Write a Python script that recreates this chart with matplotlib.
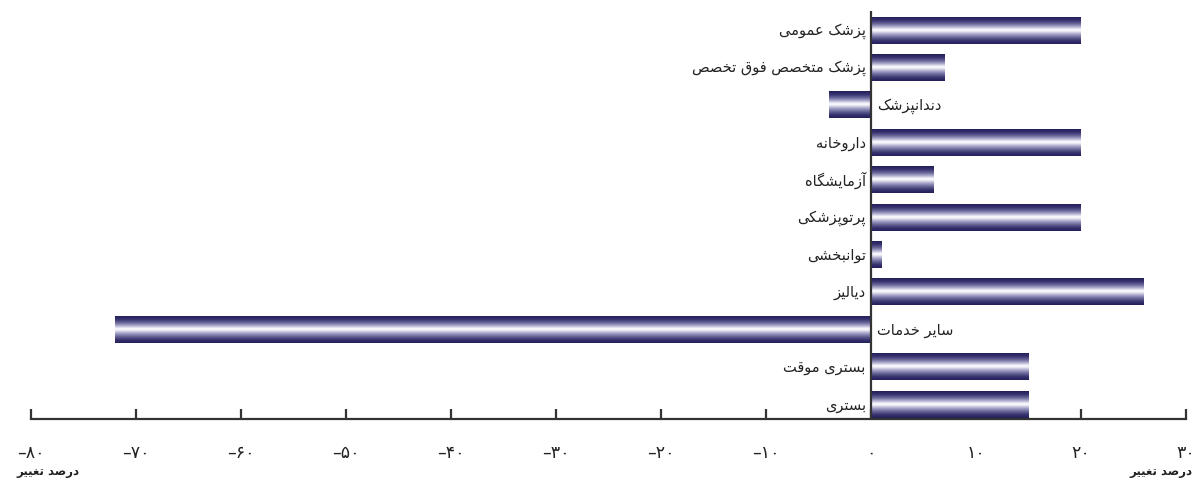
import matplotlib
matplotlib.use("Agg")
import matplotlib.pyplot as plt
import numpy as np
from matplotlib.colors import LinearSegmentedColormap

# ---------------- data ----------------
categories = [
    "پزشک عمومی",
    "پزشک متخصص فوق تخصص",
    "دندانپزشک",
    "داروخانه",
    "آزمایشگاه",
    "پرتوپزشکی",
    "توانبخشی",
    "دیالیز",
    "سایر خدمات",
    "بستری موقت",
    "بستری",
]
values = [20, 7, -4, 20, 6, 20, 1, 26, -72, 15, 15]
tick_values = list(range(-80, 31, 10))
axis_title = "درصد تغییر"

# ---------------- simple Persian shaper ----------------
FORMS = {  # isolated, final, initial, medial
    'ا': ('\uFE8D', '\uFE8E', None, None),
    'آ': ('\uFE81', '\uFE82', None, None),
    'د': ('\uFEA9', '\uFEAA', None, None),
    'ر': ('\uFEAD', '\uFEAE', None, None),
    'ز': ('\uFEAF', '\uFEB0', None, None),
    'و': ('\uFEED', '\uFEEE', None, None),
    'ب': ('\uFE8F', '\uFE90', '\uFE91', '\uFE92'),
    'پ': ('\uFB56', '\uFB57', '\uFB58', '\uFB59'),
    'ت': ('\uFE95', '\uFE96', '\uFE97', '\uFE98'),
    'خ': ('\uFEA5', '\uFEA6', '\uFEA7', '\uFEA8'),
    'س': ('\uFEB1', '\uFEB2', '\uFEB3', '\uFEB4'),
    'ش': ('\uFEB5', '\uFEB6', '\uFEB7', '\uFEB8'),
    'ص': ('\uFEB9', '\uFEBA', '\uFEBB', '\uFEBC'),
    'ع': ('\uFEC9', '\uFECA', '\uFECB', '\uFECC'),
    'غ': ('\uFECD', '\uFECE', '\uFECF', '\uFED0'),
    'ف': ('\uFED1', '\uFED2', '\uFED3', '\uFED4'),
    'ق': ('\uFED5', '\uFED6', '\uFED7', '\uFED8'),
    'ک': ('\uFB8E', '\uFB8F', '\uFB90', '\uFB91'),
    'گ': ('\uFB92', '\uFB93', '\uFB94', '\uFB95'),
    'ل': ('\uFEDD', '\uFEDE', '\uFEDF', '\uFEE0'),
    'م': ('\uFEE1', '\uFEE2', '\uFEE3', '\uFEE4'),
    'ن': ('\uFEE5', '\uFEE6', '\uFEE7', '\uFEE8'),
    'ه': ('\uFEE9', '\uFEEA', '\uFEEB', '\uFEEC'),
    'ی': ('\uFBFC', '\uFBFD', '\uFBFE', '\uFBFF'),
}


def dual(c):
    return c in FORMS and FORMS[c][2] is not None


def shape(text):
    out = []
    n = len(text)
    for i, c in enumerate(text):
        if c not in FORMS:
            out.append(c)
            continue
        prev_c = text[i - 1] if i > 0 else ''
        next_c = text[i + 1] if i < n - 1 else ''
        jp = dual(prev_c)
        jn = dual(c) and next_c in FORMS
        f = FORMS[c]
        if jp and jn:
            out.append(f[3])
        elif jp:
            out.append(f[1])
        elif jn:
            out.append(f[2])
        else:
            out.append(f[0])
    return ''.join(out)[::-1]


FA_DIGITS = str.maketrans('0123456789', '۰۱۲۳۴۵۶۷۸۹')


def fa_num(v):
    s = str(abs(v)).translate(FA_DIGITS)
    return ('\u2013' + s) if v < 0 else s


plt.rcParams['font.family'] = ['DejaVu Sans']

# ---------------- figure ----------------
W, H = 1196, 481
fig = plt.figure(figsize=(W / 100, H / 100), dpi=100)
ax = fig.add_axes([31 / W, 1 - 420 / H, (1186 - 31) / W, (420 - 12) / H])

y = np.arange(len(categories))
bars = ax.barh(y, values, height=0.72, color='none', edgecolor='none', zorder=2)

cmap = LinearSegmentedColormap.from_list(
    'tube',
    [(0.0, '#221f5a'), (0.12, '#35326e'), (0.25, '#6a6899'),
     (0.35, '#a9a7cb'), (0.43, '#e4e3f1'), (0.48, '#ffffff'),
     (0.54, '#e4e3f1'), (0.63, '#a9a7cb'), (0.75, '#6a6899'),
     (0.88, '#35326e'), (1.0, '#221f5a')])
grad = np.linspace(0, 1, 256).reshape(-1, 1)
for b in bars:
    x0, y0, w, h = b.get_x(), b.get_y(), b.get_width(), b.get_height()
    im = ax.imshow(grad, extent=[x0, x0 + w, y0 + h, y0], cmap=cmap,
                   aspect='auto', origin='upper', interpolation='bilinear',
                   zorder=2)
    im.set_clip_path(b)

ax.set_xlim(-80, 30)
ax.set_ylim(10.4, -0.51)

for s in ['top', 'right', 'left']:
    ax.spines[s].set_visible(False)
ax.spines['bottom'].set_linewidth(1.6)
ax.spines['bottom'].set_color('#333333')
ax.axvline(0, color='#333333', lw=1.6, zorder=3)

ax.set_yticks([])
ax.set_xticks(tick_values)
ax.set_xticklabels([fa_num(v) for v in tick_values], fontsize=12.5, color='#222222')
ax.tick_params(axis='x', direction='in', length=7, width=1.6, color='#333333', pad=17)

for yi, (cat, v) in enumerate(zip(categories, values)):
    if v >= 0:
        ax.text(-0.5, yi, shape(cat), ha='right', va='center', fontsize=10.5,
                color='#222222', zorder=4)
    else:
        ax.text(0.6, yi, shape(cat), ha='left', va='center', fontsize=10.5,
                color='#222222', zorder=4)

fig.text(48 / W, 1 - 472 / H, shape(axis_title), ha='center', va='center',
         fontsize=8.5, fontweight='bold', color='#222222')
fig.text(1161 / W, 1 - 472 / H, shape(axis_title), ha='center', va='center',
         fontsize=8.5, fontweight='bold', color='#222222')

fig.savefig('out.png', dpi=100)
